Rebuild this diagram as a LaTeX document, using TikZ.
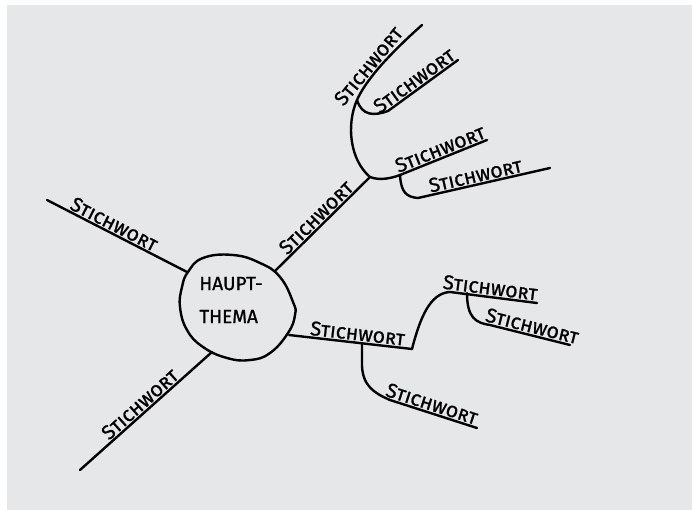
\documentclass[tikz,border=0pt]{standalone}
\usepackage{fontspec}
\setmainfont{Fira Sans}
\usepackage{tikz}
\definecolor{paper}{RGB}{230,231,233}

\begin{document}
\begin{tikzpicture}[x=1pt,y=-1pt,
  branch/.style={line width=2.4pt,line cap=round,line join=round},
  word/.style={sloped,above,inner sep=1pt,font=\fontsize{20}{22}\selectfont\scshape\addfontfeatures{FakeBold=1}}]
\useasboundingbox (0,0) rectangle (692,510);
\fill[paper] (7,5) rectangle (692,510);

% Hauptthema
\draw[branch] plot[smooth cycle,tension=.75] coordinates {(188,272) (203,258) (233,255) (260,263) (280,277) (293,302) (295,315) (288,333) (270,353) (250,360) (227,358) (203,347) (187,330) (180,307) (182,287)};
\node[align=left,font=\fontsize{19}{33}\selectfont\addfontfeatures{FakeBold=1}] (haupt) at (231,300) {HAUPT-\\THEMA};

\coordinate (ul0) at (187,272); \coordinate (ul1) at (47,200);
\coordinate (ll0) at (212,352); \coordinate (ll1) at (80,470);
\coordinate (ur0) at (275,271); \coordinate (j1) at (370,177);
\coordinate (br) at (357,100);  \coordinate (t1) at (422,25);
\coordinate (s2) at (388,111);  \coordinate (t2) at (458,60);
\coordinate (j2) at (400,175);  \coordinate (t3) at (487,140);
\coordinate (s4) at (418,198);  \coordinate (t4) at (550,168);
\coordinate (r0) at (289,335);  \coordinate (k2) at (412,349);
\coordinate (k1) at (362,344);  \coordinate (k1b) at (362,366);
\coordinate (s5) at (450,292);  \coordinate (t5) at (537,303);
\coordinate (s6) at (467,293);  \coordinate (s6b) at (490,325);
\coordinate (t6) at (570,345);
\coordinate (s7) at (390,400);  \coordinate (t7) at (477,428);

% links
\draw[branch] (ul1) -- node[word,pos=.45] (w1) {Stichwort} (ul0);
\draw[branch] (ll1) -- node[word,pos=.5] (w2) {Stichwort} (ll0);

% oben rechts
\draw[branch] (ur0) -- node[word] (w3) {Stichwort} (j1);
\draw[branch] (j1) .. controls (350,160) and (346,125) .. (br);
\draw[branch] (br) .. controls (365,82) and (385,58) .. node[word,pos=.45] (w4) {Stichwort} (t1);
\draw[branch] (br) .. controls (362,116) and (374,116) .. (s2) -- node[word,pos=.45] (w5) {Stichwort} (t2);
\draw[branch] (j1) .. controls (380,181) and (392,178) .. (j2) -- node[word] (w6) {Stichwort} (t3);
\draw[branch] (j2) .. controls (401,192) and (406,197) .. (s4) -- node[word,pos=.45] (w7) {Stichwort} (t4);

% unten rechts
\draw[branch] (r0) -- node[word,pos=.55] (w8) {Stichwort} (k2);
\draw[branch] (k2) .. controls (420,318) and (430,293) .. (s5) -- node[word,pos=.45] (w9) {Stichwort} (t5);
\draw[branch] (s6) .. controls (467,318) and (476,323) .. (s6b) -- node[word] (w10) {Stichwort} (t6);
\draw[branch] (k1) -- (k1b) .. controls (363,386) and (374,393) .. (s7) -- node[word,pos=.45] (w11) {Stichwort} (t7);
\end{tikzpicture}
\end{document}
